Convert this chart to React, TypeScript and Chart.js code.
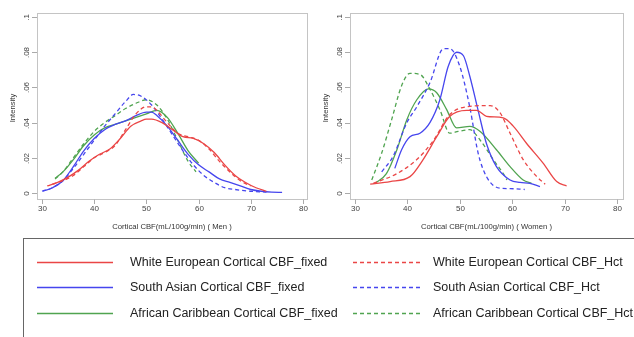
import React, { useEffect, useRef } from "react";
import { Chart, registerables } from "chart.js";

Chart.register(...registerables);

// ---------- tick labels ----------
const xTicks = [30, 40, 50, 60, 70, 80];
const yTicks = [0, 0.02, 0.04, 0.06, 0.08, 0.1];
const yTickLabels = ["0", ".02", ".04", ".06", ".08", ".1"];
const yTitle = "Intensity";
const menTitle = "Cortical CBF(mL/100g/min) ( Men )";
const womenTitle = "Cortical CBF(mL/100g/min) ( Women )";

// ---------- Men panel ----------
const menWEFixedX = [31, 33, 35, 37, 39, 41, 43, 45, 47, 49, 50, 51, 53, 55, 57, 59, 61, 63, 65, 67, 69, 71, 73];
const menWEFixedY = [0.004, 0.006, 0.009, 0.013, 0.018, 0.022, 0.025, 0.031, 0.038, 0.041, 0.042, 0.042, 0.040, 0.036, 0.032, 0.031, 0.028, 0.023, 0.016, 0.010, 0.006, 0.003, 0.001];
const menWEHctX = [32, 34, 36, 38, 40, 42, 44, 46, 48, 50, 51, 52, 54, 56, 58, 60, 62, 64, 66, 68, 70];
const menWEHctY = [0.005, 0.007, 0.010, 0.015, 0.020, 0.023, 0.027, 0.036, 0.045, 0.049, 0.049, 0.047, 0.040, 0.034, 0.032, 0.030, 0.025, 0.018, 0.012, 0.007, 0.004];
const menSAFixedX = [30.2, 32, 34, 36, 38, 40, 42, 44, 46, 48, 50, 51, 52, 54, 56, 58, 60, 62, 64, 66, 68, 70, 72, 74, 76];
const menSAFixedY = [0.001, 0.003, 0.007, 0.015, 0.024, 0.031, 0.036, 0.039, 0.041, 0.044, 0.046, 0.046, 0.044, 0.038, 0.030, 0.022, 0.016, 0.012, 0.008, 0.006, 0.004, 0.002, 0.001, 0.0005, 0.0004];
const menSAHctX = [30, 32, 34, 36, 38, 40, 42, 44, 46, 47.5, 49, 51, 53, 55, 57, 59, 61, 63, 65, 67, 70, 73];
const menSAHctY = [0.001, 0.003, 0.007, 0.014, 0.022, 0.030, 0.038, 0.045, 0.052, 0.056, 0.055, 0.050, 0.042, 0.033, 0.024, 0.016, 0.010, 0.006, 0.003, 0.002, 0.001, 0.0005];
const menACFixedX = [32.5, 34, 36, 38, 40, 42, 44, 46, 48, 50, 52, 54, 56, 58, 60];
const menACFixedY = [0.0084, 0.012, 0.019, 0.027, 0.033, 0.037, 0.039, 0.041, 0.043, 0.045, 0.047, 0.043, 0.034, 0.024, 0.017];
const menACHctX = [32.5, 34, 36, 38, 40, 42, 44, 46, 48, 50, 52, 54, 56, 58, 59.5];
const menACHctY = [0.008, 0.012, 0.020, 0.028, 0.035, 0.040, 0.044, 0.048, 0.051, 0.053, 0.050, 0.042, 0.030, 0.018, 0.012];

// ---------- Women panel ----------
const womWEFixedX = [32.9, 36.7, 40.5, 43, 45.6, 48.1, 51.3, 53.2, 55.1, 58.3, 60.2, 62.8, 65.9, 68.5, 70.4];
const womWEFixedY = [0.005, 0.0065, 0.0093, 0.019, 0.032, 0.0436, 0.047, 0.047, 0.0436, 0.0427, 0.038, 0.028, 0.017, 0.0065, 0.004];
const womWEHctX = [33.5, 38, 41.8, 45, 48.1, 51.3, 55.8, 57.7, 59.6, 62.1, 64.7, 66.3];
const womWEHctY = [0.0055, 0.011, 0.019, 0.030, 0.0446, 0.049, 0.0497, 0.0455, 0.034, 0.019, 0.0093, 0.005];
const womSAFixedX = [37.6, 38.9, 40.5, 42.4, 44.3, 46.2, 47.8, 49.4, 50.7, 51.9, 53.5, 55.1, 57, 59.6, 61.5, 63.4, 65.3];
const womSAFixedY = [0.014, 0.0246, 0.032, 0.034, 0.040, 0.053, 0.072, 0.080, 0.078, 0.0665, 0.047, 0.028, 0.015, 0.0074, 0.006, 0.0055, 0.0036];
const womSAHctX = [35.1, 37.3, 39.9, 41.8, 44.3, 46.9, 48.1, 50, 51.9, 53.5, 55.1, 57.7, 59.6, 62.4];
const womSAHctY = [0.012, 0.021, 0.040, 0.049, 0.0627, 0.082, 0.082, 0.072, 0.049, 0.0227, 0.0093, 0.0027, 0.0025, 0.002];
const womACFixedX = [33.8, 36, 38, 39.9, 41.8, 44, 45.6, 47.5, 49.4, 51.9, 53.9, 57, 59.6, 62.1, 63.7];
const womACFixedY = [0.0055, 0.011, 0.0246, 0.0417, 0.053, 0.0592, 0.057, 0.0474, 0.037, 0.0379, 0.035, 0.0246, 0.015, 0.0074, 0.0055];
const womACHctX = [33.2, 35.1, 37, 38.9, 40.5, 42.4, 44.3, 46.2, 48.1, 49.7, 51.9, 53.9, 56.4, 58.3, 59];
const womACHctY = [0.0074, 0.0227, 0.0417, 0.061, 0.068, 0.0674, 0.059, 0.0474, 0.034, 0.035, 0.036, 0.030, 0.019, 0.011, 0.0074];

const legendLabels = [
  "White European Cortical CBF_fixed",
  "South Asian Cortical CBF_fixed",
  "African Caribbean Cortical CBF_fixed",
  "White European Cortical CBF_Hct",
  "South Asian Cortical CBF_Hct",
  "African Caribbean Cortical CBF_Hct",
];

const RED = "rgb(234,70,70)";
const BLUE = "rgb(70,70,238)";
const GREEN = "rgb(80,164,80)";

const pts = (xs: number[], ys: number[]) => xs.map((x, i) => ({ x, y: ys[i] }));

const mkDs = (label: string, xs: number[], ys: number[], color: string, dashed: boolean) => ({
  label,
  data: pts(xs, ys),
  borderColor: color,
  backgroundColor: color,
  borderWidth: 1.3,
  borderDash: dashed ? [4, 3] : [],
  pointRadius: 0,
  tension: 0.4,
  cubicInterpolationMode: "monotone" as const,
  fill: false,
});

const framePlugin = {
  id: "stataFrame",
  afterDraw(chart: any, _args: any, opts: any) {
    const { ctx, chartArea } = chart;
    const xs = chart.scales.x;
    const ys = chart.scales.y;
    ctx.save();
    ctx.strokeStyle = "#c4c4c4";
    ctx.lineWidth = 1;
    ctx.strokeRect(chartArea.left + 0.5, chartArea.top + 0.5, chartArea.right - chartArea.left, chartArea.bottom - chartArea.top);
    ctx.strokeStyle = "#aaa";
    ctx.fillStyle = "#444";
    ctx.font = "8px 'Liberation Sans', Arial, sans-serif";
    ctx.textAlign = "center";
    ctx.textBaseline = "middle";
    xTicks.forEach((t) => {
      const px = Math.round(xs.getPixelForValue(t)) + 0.5;
      ctx.beginPath();
      ctx.moveTo(px, chartArea.bottom + 0.5);
      ctx.lineTo(px, chartArea.bottom + 5);
      ctx.stroke();
      ctx.fillText(String(t), px, chartArea.bottom + 10);
    });
    yTicks.forEach((t, i) => {
      const py = Math.round(ys.getPixelForValue(t)) + 0.5;
      ctx.beginPath();
      ctx.moveTo(chartArea.left - 5, py);
      ctx.lineTo(chartArea.left, py);
      ctx.stroke();
      ctx.save();
      ctx.translate(chartArea.left - 10, py);
      ctx.rotate(-Math.PI / 2);
      ctx.fillText(yTickLabels[i], 0, 0);
      ctx.restore();
    });
    ctx.font = "7.7px 'Liberation Sans', Arial, sans-serif";
    ctx.fillStyle = "#333";
    ctx.fillText(opts.xTitle, (chartArea.left + chartArea.right) / 2, chartArea.bottom + 28);
    ctx.save();
    ctx.translate(chartArea.left - 24, (chartArea.top + chartArea.bottom) / 2 + 2);
    ctx.rotate(-Math.PI / 2);
    ctx.fillText(yTitle, 0, 0);
    ctx.restore();
    ctx.restore();
  },
};

type PanelProps = {
  left: number;
  padLeft: number;
  padRight: number;
  xMin: number;
  xMax: number;
  xTitle: string;
  datasets: any[];
};

const CW = 317;
const CH = 236;

function Panel({ left, padLeft, padRight, xMin, xMax, xTitle, datasets }: PanelProps) {
  const ref = useRef<HTMLCanvasElement>(null);
  useEffect(() => {
    if (!ref.current) return;
    const chart = new Chart(ref.current, {
      type: "line",
      data: { datasets },
      options: {
        responsive: false,
        animation: false,
        maintainAspectRatio: false,
        layout: { padding: { left: padLeft, right: padRight, top: 13, bottom: CH - 199 } },
        scales: {
          x: { type: "linear", min: xMin, max: xMax, display: false },
          y: { type: "linear", min: -0.0034, max: 0.1023, display: false },
        },
        plugins: {
          legend: { display: false },
          tooltip: { enabled: false },
          stataFrame: { xTitle },
        } as any,
      },
      plugins: [framePlugin],
    });
    return () => chart.destroy();
  }, []);
  return (
    <canvas
      ref={ref}
      width={CW}
      height={CH}
      style={{ position: "absolute", left, top: 0, width: CW, height: CH }}
    />
  );
}

function LegendLine({ x1, x2, y, color, dashed }: { x1: number; x2: number; y: number; color: string; dashed: boolean }) {
  return (
    <line x1={x1} x2={x2} y1={y} y2={y} stroke={color} strokeWidth={1.3} strokeDasharray={dashed ? "4,3" : undefined} />
  );
}

export default function App() {
  const menSets = [
    mkDs(legendLabels[0], menWEFixedX, menWEFixedY, RED, false),
    mkDs(legendLabels[3], menWEHctX, menWEHctY, RED, true),
    mkDs(legendLabels[1], menSAFixedX, menSAFixedY, BLUE, false),
    mkDs(legendLabels[4], menSAHctX, menSAHctY, BLUE, true),
    mkDs(legendLabels[2], menACFixedX, menACFixedY, GREEN, false),
    mkDs(legendLabels[5], menACHctX, menACHctY, GREEN, true),
  ];
  const womSets = [
    mkDs(legendLabels[0], womWEFixedX, womWEFixedY, RED, false),
    mkDs(legendLabels[3], womWEHctX, womWEHctY, RED, true),
    mkDs(legendLabels[1], womSAFixedX, womSAFixedY, BLUE, false),
    mkDs(legendLabels[4], womSAHctX, womSAHctY, BLUE, true),
    mkDs(legendLabels[2], womACFixedX, womACFixedY, GREEN, false),
    mkDs(legendLabels[5], womACHctX, womACHctY, GREEN, true),
  ];
  const colors = [RED, BLUE, GREEN];
  const rows = [262, 287, 313];
  const textStyle = (x: number, y: number): React.CSSProperties => ({
    position: "absolute",
    left: x,
    top: y - 8,
    font: "12.5px 'Liberation Sans', Arial, sans-serif",
    color: "#222",
    whiteSpace: "nowrap",
    lineHeight: "16px",
  });
  return (
    <div style={{ position: "absolute", left: 0, top: 0, width: 634, height: 337, background: "#fff", overflow: "hidden" }}>
      <Panel left={0} padLeft={37} padRight={CW - 307} xMin={29.04} xMax={80.77} xTitle={menTitle} datasets={menSets} />
      <Panel left={317} padLeft={33} padRight={CW - 306} xMin={29.05} xMax={81.15} xTitle={womenTitle} datasets={womSets} />
      <div
        style={{
          position: "absolute",
          left: 23,
          top: 238,
          width: 640,
          height: 140,
          border: "1px solid #666",
          boxSizing: "border-box",
        }}
      />
      <svg width={634} height={337} style={{ position: "absolute", left: 0, top: 0 }}>
        {rows.map((y, i) => (
          <LegendLine key={"s" + i} x1={37} x2={113} y={y + 0.5} color={colors[i]} dashed={false} />
        ))}
        {rows.map((y, i) => (
          <LegendLine key={"d" + i} x1={353} x2={421} y={y + 0.5} color={colors[i]} dashed={true} />
        ))}
      </svg>
      {rows.map((y, i) => (
        <div key={"t" + i} style={textStyle(130, y)}>{legendLabels[i]}</div>
      ))}
      {rows.map((y, i) => (
        <div key={"u" + i} style={textStyle(433, y)}>{legendLabels[i + 3]}</div>
      ))}
    </div>
  );
}
